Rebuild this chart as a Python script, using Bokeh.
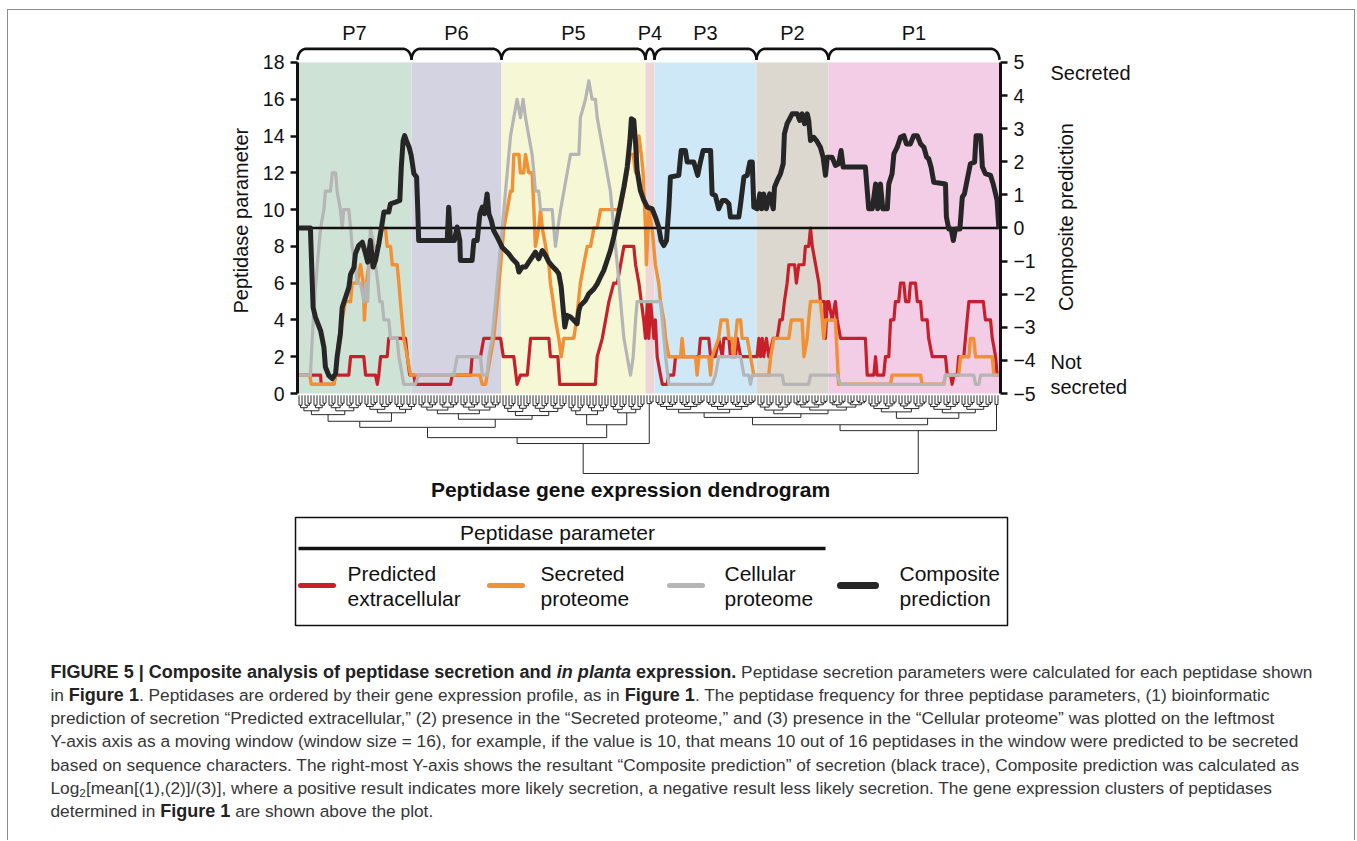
import math
from bokeh.plotting import figure
from bokeh.models import Range1d, LinearAxis, FixedTicker, Label
from bokeh.layouts import column
from bokeh.core.properties import value
from bokeh.embed import file_html
from bokeh.resources import INLINE

FONT = "Liberation Sans"

# ------------------------------------------------------------------ data
clusters = ["P7", "P6", "P5", "P4", "P3", "P2", "P1"]
cluster_sizes = [38, 30, 48, 3, 34, 24, 57]
cluster_colors = ["#cfe2d6", "#d3d3e1", "#f5f7d5", "#efd5d7", "#cfe8f7", "#dcd8cf", "#f3cce6"]

left_ticks = [0, 2, 4, 6, 8, 10, 12, 14, 16, 18]
right_ticks = [-5, -4, -3, -2, -1, 0, 1, 2, 3, 4, 5]

# Predicted extracellular (gene index, count in window)
pred_x = [0.5, 7.7, 7.9, 12.1, 12.7, 17.1, 17.7, 22.1, 22.7, 26.0, 26.6, 27.1, 27.7, 29.9, 30.4, 36.0, 36.6, 37.4,
          38.8, 39.3, 51.0, 51.6, 57.7, 58.2, 61.0, 62.1, 67.7, 68.6, 72.1, 73.2, 74.3, 76.6, 77.7, 83.8, 84.3, 86.8,
          87.4, 99.3, 99.9, 101.6, 102.7, 103.8, 105.4, 106.6, 107.7, 108.8, 112.1, 112.7, 113.8, 114.6, 115.4, 116.0,
          116.6, 117.1, 117.7, 118.8, 119.3, 119.9, 121.0, 121.6, 123.2, 123.8, 125.4, 126.0, 133.8, 134.3, 137.1,
          137.7, 139.3, 140.4, 141.6, 142.1, 143.8, 144.3, 146.0, 146.6, 147.7, 153.2, 153.8, 154.3, 154.9, 155.4,
          156.3, 157.1, 158.6, 159.9, 160.8, 161.6, 162.3, 163.2, 163.8, 165.7, 166.3, 167.1, 168.8, 169.3, 170.4,
          171.0, 171.6, 172.7, 173.8, 174.3, 175.7, 176.0, 176.6, 177.1, 178.2, 179.3, 179.9, 181.0, 189.3, 189.9,
          192.1, 192.7, 193.2, 195.4, 196.0, 197.1, 197.7, 198.8, 199.3, 200.4, 201.0, 202.1, 202.7, 203.8, 204.3,
          206.0, 206.6, 207.7, 208.2, 209.9, 210.4, 211.6, 216.0, 216.6, 217.7, 218.2, 218.8, 219.9, 220.4, 222.1,
          223.2, 223.8, 228.6, 229.3, 231.0, 231.6, 232.7, 233.2, 233.8]
pred_y = [1, 1, 0.5, 0.5, 1, 1, 2, 2, 1, 1, 0.5, 1, 2, 2, 3, 3, 2, 1,
          1, 0.5, 0.5, 1, 1, 2, 2, 3, 3, 2, 2, 0.5, 1, 1, 3, 3, 2, 2,
          0.5, 0.5, 2, 3, 4, 5, 6, 6, 7, 8, 8, 7, 6, 5, 4, 3,
          5, 3, 5, 3, 4, 2, 1, 0.5, 0.5, 1, 1, 2, 2, 3, 3,
          2, 2, 3, 2, 3, 3, 2, 2, 3, 2, 2, 3, 2, 3, 2,
          3, 2, 3, 3, 4, 4, 5, 6, 7, 7, 6, 7, 7, 8, 8,
          9, 8, 7, 6, 5, 5, 3, 5, 5, 4, 5, 4, 3, 3, 1,
          1, 2, 1, 1, 2, 2, 4, 4, 5, 5, 6, 6, 5, 5, 6,
          6, 5, 5, 4, 4, 3, 2, 2, 1, 1, 0.5, 1, 1, 2, 2,
          4, 5, 5, 4, 4, 3, 2, 1, 1]

# Secreted proteome
sec_x = [0.5, 4.1, 4.6, 12.1, 12.7, 13.2, 13.8, 14.9, 16.0, 17.7, 18.2, 19.9, 21.0, 21.9, 22.3, 23.0, 23.8, 24.9,
         25.4, 27.1, 28.2, 29.3, 29.9, 31.0, 31.6, 33.2, 33.8, 34.3, 35.4, 36.6, 37.7, 60.8, 61.6, 62.7, 63.2, 64.3,
         65.4, 66.6, 67.7, 68.8, 69.9, 71.0, 71.6, 72.1, 73.8, 74.3, 75.4, 76.0, 77.1, 78.2, 78.8, 79.3, 80.4, 81.0,
         81.6, 82.7, 83.8, 84.3, 85.2, 86.0, 87.1, 87.9, 88.8, 92.1, 93.0, 94.3, 95.4, 96.6, 97.7, 98.8, 99.9, 101.0,
         107.7, 108.8, 109.9, 110.8, 111.9, 112.7, 113.8, 114.6, 115.2, 116.0, 116.3, 117.1, 118.2, 119.3, 120.4,
         121.0, 122.1, 122.7, 123.8, 127.7, 128.2, 128.8, 132.7, 133.2, 133.8, 137.1, 137.7, 138.2, 140.4, 141.2,
         143.2, 143.8, 144.9, 145.4, 146.6, 147.7, 148.2, 149.9, 151.0, 152.1, 157.1, 157.7, 158.8, 163.8, 164.6,
         168.2, 168.8, 169.9, 170.4, 171.0, 174.3, 174.9, 175.4, 176.0, 179.3, 179.9, 180.4, 197.7, 198.2, 207.7,
         208.2, 215.4, 216.0, 220.4, 221.0, 223.8, 224.3, 225.4, 226.0, 231.6, 232.1, 233.8]
sec_y = [1, 1, 0.5, 0.5, 1, 2, 3, 4, 5, 5, 6, 6, 7, 6, 4, 6, 7, 7,
         8, 8, 9, 9, 8, 8, 7, 7, 6, 5, 3, 2, 1, 1, 0.5, 0.5, 1, 2,
         3, 5, 7, 9, 10, 11, 11, 13, 13, 12, 12, 13, 12, 12, 10, 8, 9, 10,
         9, 8, 7, 6, 5, 4, 3, 2, 3, 3, 4, 6, 7, 8, 8, 9, 9, 10,
         10, 11, 12, 13, 13, 12, 14, 13, 12, 9, 7, 10, 9, 7, 6,
         5, 4, 3, 2, 2, 3, 2, 2, 1, 2, 2, 1, 2, 3, 4,
         4, 3, 3, 2, 4, 4, 3, 3, 2, 1, 1, 2, 3, 3, 4,
         4, 2, 3, 4, 5, 5, 4, 3, 4, 4, 2, 0.5, 0.5, 1, 1,
         0.5, 0.5, 1, 1, 2, 2, 3, 3, 2, 2, 1, 1]

# Cellular proteome
cel_x = [0.5, 4.3, 5.4, 6.6, 7.7, 8.8, 9.3, 11.0, 11.6, 12.7, 13.2, 14.3, 14.9, 15.4, 17.1, 17.7, 18.2, 19.3, 19.9,
         21.0, 22.1, 22.7, 23.4, 24.3, 25.2, 26.0, 26.8, 27.4, 28.2, 28.8, 30.4, 31.0, 33.2, 33.8, 34.9, 35.4, 39.3,
         40.4, 52.1, 53.2, 61.0, 61.6, 63.2, 63.8, 64.9, 66.0, 67.1, 68.8, 69.9, 71.0, 72.1, 73.2, 74.3, 75.2, 76.0,
         77.1, 78.2, 78.8, 79.3, 80.4, 81.0, 84.9, 85.4, 86.0, 86.8, 87.7, 88.8, 89.9, 91.0, 93.8, 94.3, 96.0, 97.1,
         98.2, 99.3, 99.9, 101.0, 102.1, 103.2, 104.3, 105.4, 106.6, 107.7, 108.8, 109.9, 111.0, 111.9, 112.7, 113.2,
         121.0, 121.6, 122.7, 123.8, 138.2, 139.3, 140.4, 147.7, 148.8, 150.4, 151.0, 151.6, 161.6, 162.1, 170.4,
         171.0, 179.9, 181.0, 215.4, 216.0, 225.4, 226.0, 227.1, 227.7, 233.8]
cel_y = [1, 1, 4.5, 7, 9, 10, 11, 11, 12, 12, 11, 10, 9, 10, 10, 9, 8, 7, 6,
         6, 5, 6, 5, 9, 8.3, 7, 6, 5, 5, 4, 4, 3, 3, 2, 1, 0.5, 0.5,
         1, 1, 2, 2, 1, 1, 2, 3, 5, 7, 10, 12, 14, 15, 16, 15, 16, 15,
         14, 13, 12, 11, 11, 10, 10, 9, 8, 9, 10, 11, 12, 13, 13, 15, 16, 17,
         16, 16, 15, 14, 13, 12, 11, 9, 7, 5, 3, 2, 1, 2, 4, 5,
         5, 4, 2, 0.5, 0.5, 1, 2, 2, 1, 1, 0.5, 1, 1, 0.5, 0.5,
         1, 1, 0.5, 0.5, 1, 1, 0.5, 0.5, 1, 1]

# Composite prediction (right axis)
comp_x = [0.5, 4.3, 5.2, 6.0, 7.7, 8.8, 9.3, 10.4, 11.6, 12.7, 13.2, 14.3, 14.9, 16.0, 17.1, 17.7, 18.8, 19.3, 20.4,
          21.6, 22.7, 23.4, 24.3, 25.2, 26.0, 27.1, 28.2, 28.8, 30.4, 31.0, 32.7, 34.1, 34.6, 35.2, 35.7, 36.3, 37.2,
          37.9, 38.8, 39.7, 40.1, 40.4, 49.9, 50.4, 51.0, 52.3, 53.2, 54.1, 54.3, 58.2, 58.8, 59.9, 60.8, 61.6, 62.3,
          63.2, 63.8, 64.6, 65.4, 66.6, 68.2, 69.3, 70.4, 71.6, 73.2, 73.8, 74.9, 76.0, 77.1, 78.2, 79.3, 80.4, 81.6,
          82.7, 83.8, 85.2, 86.3, 87.1, 87.9, 88.8, 89.1, 89.9, 91.0, 92.1, 93.2, 93.8, 94.3, 96.0, 97.1, 98.8, 99.9,
          101.0, 102.1, 103.2, 104.3, 105.4, 106.6, 107.7, 108.8, 109.9, 110.8, 111.3, 112.1, 112.7, 113.2, 114.3,
          115.4, 116.6, 118.2, 119.3, 120.4, 121.2, 122.1, 123.0, 123.8, 124.3, 127.1, 127.9, 129.3, 129.9, 132.1,
          133.4, 134.3, 135.2, 137.7, 138.2, 139.3, 140.4, 141.6, 142.7, 143.8, 144.3, 147.1, 147.7, 148.8, 149.9,
          150.8, 151.6, 152.1, 153.2, 154.1, 154.7, 155.4, 156.3, 157.4, 158.6, 159.0, 159.9, 161.0, 161.9, 162.3,
          163.2, 164.9, 166.6, 167.4, 168.2, 169.0, 169.9, 170.4, 171.0, 172.1, 173.0, 174.3, 175.2, 176.0, 176.6,
          178.2, 179.3, 180.4, 181.2, 181.9, 189.3, 190.4, 191.6, 192.7, 193.4, 194.3, 195.1, 196.6, 197.1, 198.2,
          198.8, 199.9, 201.0, 202.1, 203.0, 204.3, 205.4, 206.6, 207.7, 208.8, 209.7, 210.4, 211.2, 212.1, 216.0,
          216.3, 217.1, 217.9, 218.6, 219.3, 220.8, 221.6, 222.3, 223.2, 224.3, 225.7, 226.2, 227.7, 228.3, 229.3,
          231.0, 231.9, 232.7, 233.2, 233.8]
comp_y = [0, 0, -2.4, -2.7, -3.1, -3.6, -4.2, -4.45, -4.55, -4.4, -3.9, -3.2, -2.4, -2.1, -1.8, -1.4, -1.2, -0.78,
          -0.53, -0.43, -0.78, -1.03, -0.38, -1.18, -0.98, -0.48, 0.13, 0.48, 0.48, 0.73, 0.78, 0.83, 1.84, 2.64,
          2.79, 2.64, 2.44, 2.19, 1.64, 1.54, 0.53, -0.38, -0.38, 0.63, -0.38, -0.38, 0.03, -0.38, -0.98, -0.98,
          -0.38, -0.38, 0.43, 0.63, 0.43, 1.03, 0.43, 0.23, -0.08, -0.28, -0.58, -0.68, -0.78, -0.93, -1.08, -1.33,
          -1.18, -1.18, -1.03, -0.88, -0.73, -0.93, -0.68, -0.83, -1.03, -1.18, -1.28, -1.38, -1.78, -2.69, -2.99,
          -2.64, -2.69, -2.79, -2.89, -2.49, -2.34, -2.19, -1.99, -1.84, -1.69, -1.48, -1.28, -0.98, -0.68, -0.28,
          0.23, 0.73, 1.23, 1.84, 2.64, 3.30, 3.25, 2.54, 1.74, 1.13, 0.85, 0.63, 0.58, 0.33, 0.03, -0.38, -0.53,
          -0.38, 0.63, 1.54, 1.59, 2.34, 2.34, 1.99, 1.99, 1.59, 1.99, 2.34, 2.34, 1.03, 0.98, 0.58, 0.83, 0.83,
          0.73, 0.33, 0.33, 0.73, 1.54, 1.59, 1.99, 1.99, 0.63, 0.58, 1.03, 0.58, 1.03, 0.58, 1.03, 0.58, 1.23,
          1.43, 1.64, 1.94, 2.84, 3.15, 3.45, 3.45, 3.25, 3.45, 3.15, 3.45, 3.25, 2.64, 2.74, 2.64, 2.44, 2.14,
          1.59, 2.14, 2.14, 1.89, 1.94, 2.34, 1.84, 1.84, 0.58, 0.58, 1.33, 0.58, 1.33, 0.58, 0.58, 1.33, 1.64,
          2.24, 2.44, 2.74, 2.79, 2.54, 2.54, 2.79, 2.79, 2.54, 2.44, 2.14, 2.09, 1.84, 1.38, 1.33, 0.33, -0.03,
          -0.03, -0.38, -0.03, -0.03, 0.93, 1.03, 1.44, 1.94, 1.99, 2.79, 2.79, 1.84, 1.64, 1.59, 1.33, 1.03, 0.83,
          -0.03]

series_names = ["Predicted extracellular", "Secreted proteome", "Cellular proteome", "Composite prediction"]
series_colors = ["#c8202a", "#f29033", "#b5b5b5", "#262626"]

# dendrogram: [merge height, left, right]; integers are blocks of leaves
dendro_tree = [4.25,
               [2.62,
                [2.30,
                 [1.74,
                  [1.41, [1.05, 10, 12], [0.95, 10, 8]],
                  [1.30, [1.00, 14, 14], [1.10, 10, 12]]],
                 [1.60,
                  [1.05, 6, 8],
                  [0.95, 6, 6]]],
                [0.45, 1, 2]],
               [1.92,
                [1.60,
                 [1.20, [0.95, 17, 17], [1.00, 12, 25]],
                 [1.25, [0.90, 10, 10], [0.95, 11, 11]]],
                [0.50, 1, 1]]]

# ------------------------------------------------------------------ page geometry (px)
W = 1346                      # content width inside the grey frame
PLOT_L, PLOT_R = 297, 1000    # page x of the two value axes
PX_PER_GENE = 3.0
Y0_PAGE, PX_PER_UNIT = 393.0, 18.39
SIDE = 60
TOP_A, BOT_A = 10, 507
H_A = BOT_A - TOP_A
H_B = 333

X_END = sum(cluster_sizes) + 0.33
x_lo = (8 + SIDE - PLOT_L) / PX_PER_GENE
x_hi = (8 + W - SIDE - PLOT_L) / PX_PER_GENE
Y_TOP = (Y0_PAGE - TOP_A) / PX_PER_UNIT
Y_BOT = (Y0_PAGE - BOT_A) / PX_PER_UNIT
comp_lo, comp_hi = (Y_BOT - 9) / 1.8, (Y_TOP - 9) / 1.8

p = figure(width=W, height=H_A, output_backend="svg", toolbar_location=None,
           x_range=Range1d(x_lo, x_hi), y_range=Range1d(Y_BOT, Y_TOP),
           x_axis_location=None, min_border_left=SIDE, min_border_right=SIDE,
           min_border_top=0, min_border_bottom=0)
p.frame_align = False
p.grid.visible = False
p.outline_line_color = None
p.extra_y_ranges = {"comp": Range1d(comp_lo, comp_hi)}

starts, ends = [], []
acc = 0
for s in cluster_sizes:
    starts.append(acc)
    acc += s
    ends.append(acc)

p.quad(left=starts, right=ends, bottom=0, top=18, fill_color=cluster_colors, line_color=None)

p.line(pred_x, pred_y, line_color=series_colors[0], line_width=3.2, line_join="round")
p.line(sec_x, sec_y, line_color=series_colors[1], line_width=3.4, line_join="round")
p.line(cel_x, cel_y, line_color=series_colors[2], line_width=3.2, line_join="round")
p.line([0, X_END], [0, 0], line_color="#111111", line_width=2.5, y_range_name="comp")
p.line(comp_x, comp_y, line_color=series_colors[3], line_width=5, line_join="round", y_range_name="comp")

# brackets above clusters
b_xs, b_ys = [], []
TOPB, RY = 18.74, 0.6
for a, b in zip(starts, ends):
    rx = min(2.8, (b - a) / 2.0)
    xs, ys = [], []
    for k in range(9):
        t = math.pi - k * (math.pi / 2) / 8
        xs.append(a + rx + rx * math.cos(t)); ys.append(TOPB - RY + RY * math.sin(t))
    for k in range(9):
        t = math.pi / 2 - k * (math.pi / 2) / 8
        xs.append(b - rx + rx * math.cos(t)); ys.append(TOPB - RY + RY * math.sin(t))
    b_xs.append(xs); b_ys.append(ys)
p.multi_line(b_xs, b_ys, line_color="#111111", line_width=2.6)
centers = [(a + b) / 2 for a, b in zip(starts, ends)]
p.text(x=centers, y=[19.6] * len(clusters), text=clusters, text_align="center", text_baseline="middle",
       text_font=value(FONT), text_font_size="20px", text_color="#111111")

# dendrogram
sx0, sy0, sx1, sy1 = [], [], [], []
LEAF_TOP = 0.1


def build(node, start, parent_h):
    if isinstance(node, int):
        if node == 1:
            return start + 0.5, 0.0, start + 1
        h = parent_h * 0.8
        a = node // 2
        node = [h, a, node - a]
    h, left, right = node
    xl, hl, nxt = build(left, start, h)
    xr, hr, nxt = build(right, nxt, h)
    for xc, hc in ((xl, hl), (xr, hr)):
        sx0.append(xc); sy0.append(-(LEAF_TOP + hc)); sx1.append(xc); sy1.append(-(LEAF_TOP + h))
    sx0.append(xl); sy0.append(-(LEAF_TOP + h)); sx1.append(xr); sy1.append(-(LEAF_TOP + h))
    return (xl + xr) / 2.0, h, nxt


build(dendro_tree, 0, 1.0)
p.segment(x0=sx0, y0=sy0, x1=sx1, y1=sy1, line_color="#2a2a2a", line_width=1)

p.add_layout(Label(x=111, y=-5.22, text="Peptidase gene expression dendrogram", text_align="center",
                   text_baseline="middle", text_font=FONT, text_font_size="21px", text_font_style="bold",
                   text_color="#111111"))

# axes, pinned to the plot edges
ax = p.yaxis[0]
ax.ticker = FixedTicker(ticks=left_ticks)
ax.bounds = (0, 18)
ax.fixed_location = 0
rax = LinearAxis(y_range_name="comp", ticker=FixedTicker(ticks=right_ticks), bounds=(-5, 5))
rax.fixed_location = X_END
p.add_layout(rax, "right")
for a_ in (ax, rax):
    a_.axis_line_width = 3
    a_.axis_line_color = "#111111"
    a_.major_tick_line_width = 2.5
    a_.major_tick_line_color = "#111111"
    a_.major_tick_out = 7
    a_.major_tick_in = 0
    a_.minor_tick_out = 0
    a_.minor_tick_in = 0
    a_.major_label_text_font = FONT
    a_.major_label_text_font_size = "19.5px"
    a_.major_label_text_color = "#111111"
    a_.major_label_standoff = 6

p.add_layout(Label(x=-19, y=9.4, text="Peptidase parameter", angle=math.pi / 2, text_align="center",
                   text_baseline="middle", text_font=FONT, text_font_size="20px", text_color="#111111"))
p.add_layout(Label(x=256.3, y=9.6, text="Composite prediction", angle=math.pi / 2, text_align="center",
                   text_baseline="middle", text_font=FONT, text_font_size="20px", text_color="#111111"))
for txt, yy in (("Secreted", 17.45), ("Not", 1.69), ("secreted", 0.33)):
    p.add_layout(Label(x=251, y=yy, text=txt, text_align="left", text_baseline="middle",
                       text_font=FONT, text_font_size="20px", text_color="#111111"))

# ------------------------------------------------------------------ legend + caption figure
q = figure(width=W, height=H_B, output_backend="svg", toolbar_location=None,
           x_range=Range1d(8, 8 + W), y_range=Range1d(BOT_A + H_B, BOT_A),
           x_axis_location=None, y_axis_location=None, min_border=0)
q.frame_align = False
q.grid.visible = False
q.outline_line_color = None

q.quad(left=[295], right=[1007], top=[517], bottom=[625], fill_color=None, line_color="#111111", line_width=1.5)
q.text(x=[557], y=[532], text=["Peptidase parameter"], text_align="center", text_baseline="middle",
       text_font=value(FONT), text_font_size="21px", text_color="#111111")
q.segment(x0=[298], y0=[548], x1=[825], y1=[548], line_color="#111111", line_width=3.5)
q.segment(x0=[300, 489, 669, 840], y0=[585] * 4, x1=[333, 522, 702, 875], y1=[585] * 4,
          line_color=series_colors, line_width=[5, 5, 5, 7], line_cap="round")
first_words = [s.split(" ")[0] for s in series_names]
second_words = [s.split(" ")[1] for s in series_names]
for words, yy in ((first_words, 573), (second_words, 598)):
    q.text(x=[347, 540, 724, 899], y=[yy] * 4, text=words, text_align="left", text_baseline="middle",
           text_font=value(FONT), text_font_size="21px", text_color="#111111")

# caption
REG = {" ": 278, "(": 333, ")": 333, ",": 278, "-": 333, ".": 278, "/": 278, ":": 278, "=": 584, "[": 278,
       "]": 278, "|": 260, "\u201c": 333, "\u201d": 333}
BLD = {" ": 278, "(": 333, ")": 333, ",": 278, "-": 333, ".": 278, "/": 278, ":": 333, "|": 280}
for d in (REG, BLD):
    for c in "0123456789":
        d[c] = 556
for c, w in zip("ABCDEFGHIJKLMNOPQRSTUVWXYZ",
                [667, 667, 722, 722, 667, 611, 778, 722, 278, 500, 667, 556, 833, 722, 778, 667, 778, 722, 667, 611,
                 722, 667, 944, 667, 667, 611]):
    REG[c] = w
for c, w in zip("abcdefghijklmnopqrstuvwxyz",
                [556, 556, 500, 556, 556, 278, 556, 556, 222, 222, 500, 222, 833, 556, 556, 556, 556, 333, 500, 278,
                 556, 500, 722, 500, 500, 500]):
    REG[c] = w
for c, w in zip("ABCDEFGHIJKLMNOPQRSTUVWXYZ",
                [722, 722, 722, 722, 667, 611, 778, 722, 278, 556, 722, 611, 833, 722, 778, 667, 778, 722, 667, 611,
                 722, 667, 944, 667, 667, 611]):
    BLD[c] = w
for c, w in zip("abcdefghijklmnopqrstuvwxyz",
                [556, 611, 556, 611, 556, 333, 611, 611, 278, 278, 556, 278, 889, 611, 611, 611, 611, 389, 556, 333,
                 611, 556, 778, 556, 556, 500]):
    BLD[c] = w


def em_width(text, style):
    table = REG if style in ("normal", "sub") else BLD
    return sum(table.get(c, 556) for c in text) / 1000.0


caption_lines = [
    [("FIGURE 5 | Composite analysis of peptidase secretion and ", "bold"), ("in planta", "bold italic"),
     (" expression.", "bold"),
     (" Peptidase secretion parameters were calculated for each peptidase shown", "normal")],
    [("in ", "normal"), ("Figure 1", "bold"),
     (". Peptidases are ordered by their gene expression profile, as in ", "normal"), ("Figure 1", "bold"),
     (". The peptidase frequency for three peptidase parameters, (1) bioinformatic", "normal")],
    [("prediction of secretion \u201cPredicted extracellular,\u201d (2) presence in the \u201cSecreted proteome,\u201d "
      "and (3) presence in the \u201cCellular proteome\u201d was plotted on the leftmost", "normal")],
    [("Y-axis axis as a moving window (window size = 16), for example, if the value is 10, that means 10 out of "
      "16 peptidases in the window were predicted to be secreted", "normal")],
    [("based on sequence characters. The right-most Y-axis shows the resultant \u201cComposite prediction\u201d of "
      "secretion (black trace), Composite prediction was calculated as", "normal")],
    [("Log", "normal"), ("2", "sub"),
     ("[mean[(1),(2)]/(3)], where a positive result indicates more likely secretion, a negative result less likely "
      "secretion. The gene expression clusters of peptidases", "normal")],
    [("determined in ", "normal"), ("Figure 1", "bold"), (" are shown above the plot.", "normal")],
]

CAP_X0, CAP_W = 50, 1262
CAP_BASE, CAP_STEP = 671, 23.3
# regular text size fitted to the 4th line, bold size so that the first line fills its width
fs_reg = 1250.0 / em_width(caption_lines[3][0][0], "normal")
reg_first = sum(em_width(t, s) for t, s in caption_lines[0] if s == "normal") * fs_reg
fs_bold = (CAP_W - reg_first) / sum(em_width(t, s) for t, s in caption_lines[0] if s != "normal")
sizes = {"normal": fs_reg, "bold": fs_bold, "bold italic": fs_bold, "sub": fs_reg * 0.68}

groups = {"normal": ([], [], []), "bold": ([], [], []), "bold italic": ([], [], []), "sub": ([], [], [])}
for i, line in enumerate(caption_lines):
    base = CAP_BASE + CAP_STEP * i
    x = CAP_X0
    for text, style in line:
        stripped = text.lstrip(" ")
        x += em_width(text[:len(text) - len(stripped)], style) * sizes[style]
        g = groups[style]
        g[0].append(x); g[1].append(base + (5 if style == "sub" else 0)); g[2].append(stripped)
        x += em_width(stripped, style) * sizes[style]
for style, (gx, gy, gt) in groups.items():
    if not gx:
        continue
    q.text(x=gx, y=gy, text=gt, text_align="left", text_baseline="alphabetic", text_font=value(FONT),
           text_font_size="%.2fpx" % sizes[style],
           text_font_style=("normal" if style == "sub" else style),
           text_color=("#363636" if style in ("normal", "sub") else "#222222"))

layout = column(p, q, styles={"margin-left": "7px", "margin-top": "9px",
                              "border-top": "1px solid #8c8c8c", "border-left": "1px solid #8c8c8c",
                              "border-right": "1px solid #8c8c8c"})
open("out.html", "w").write(file_html(layout, INLINE))
